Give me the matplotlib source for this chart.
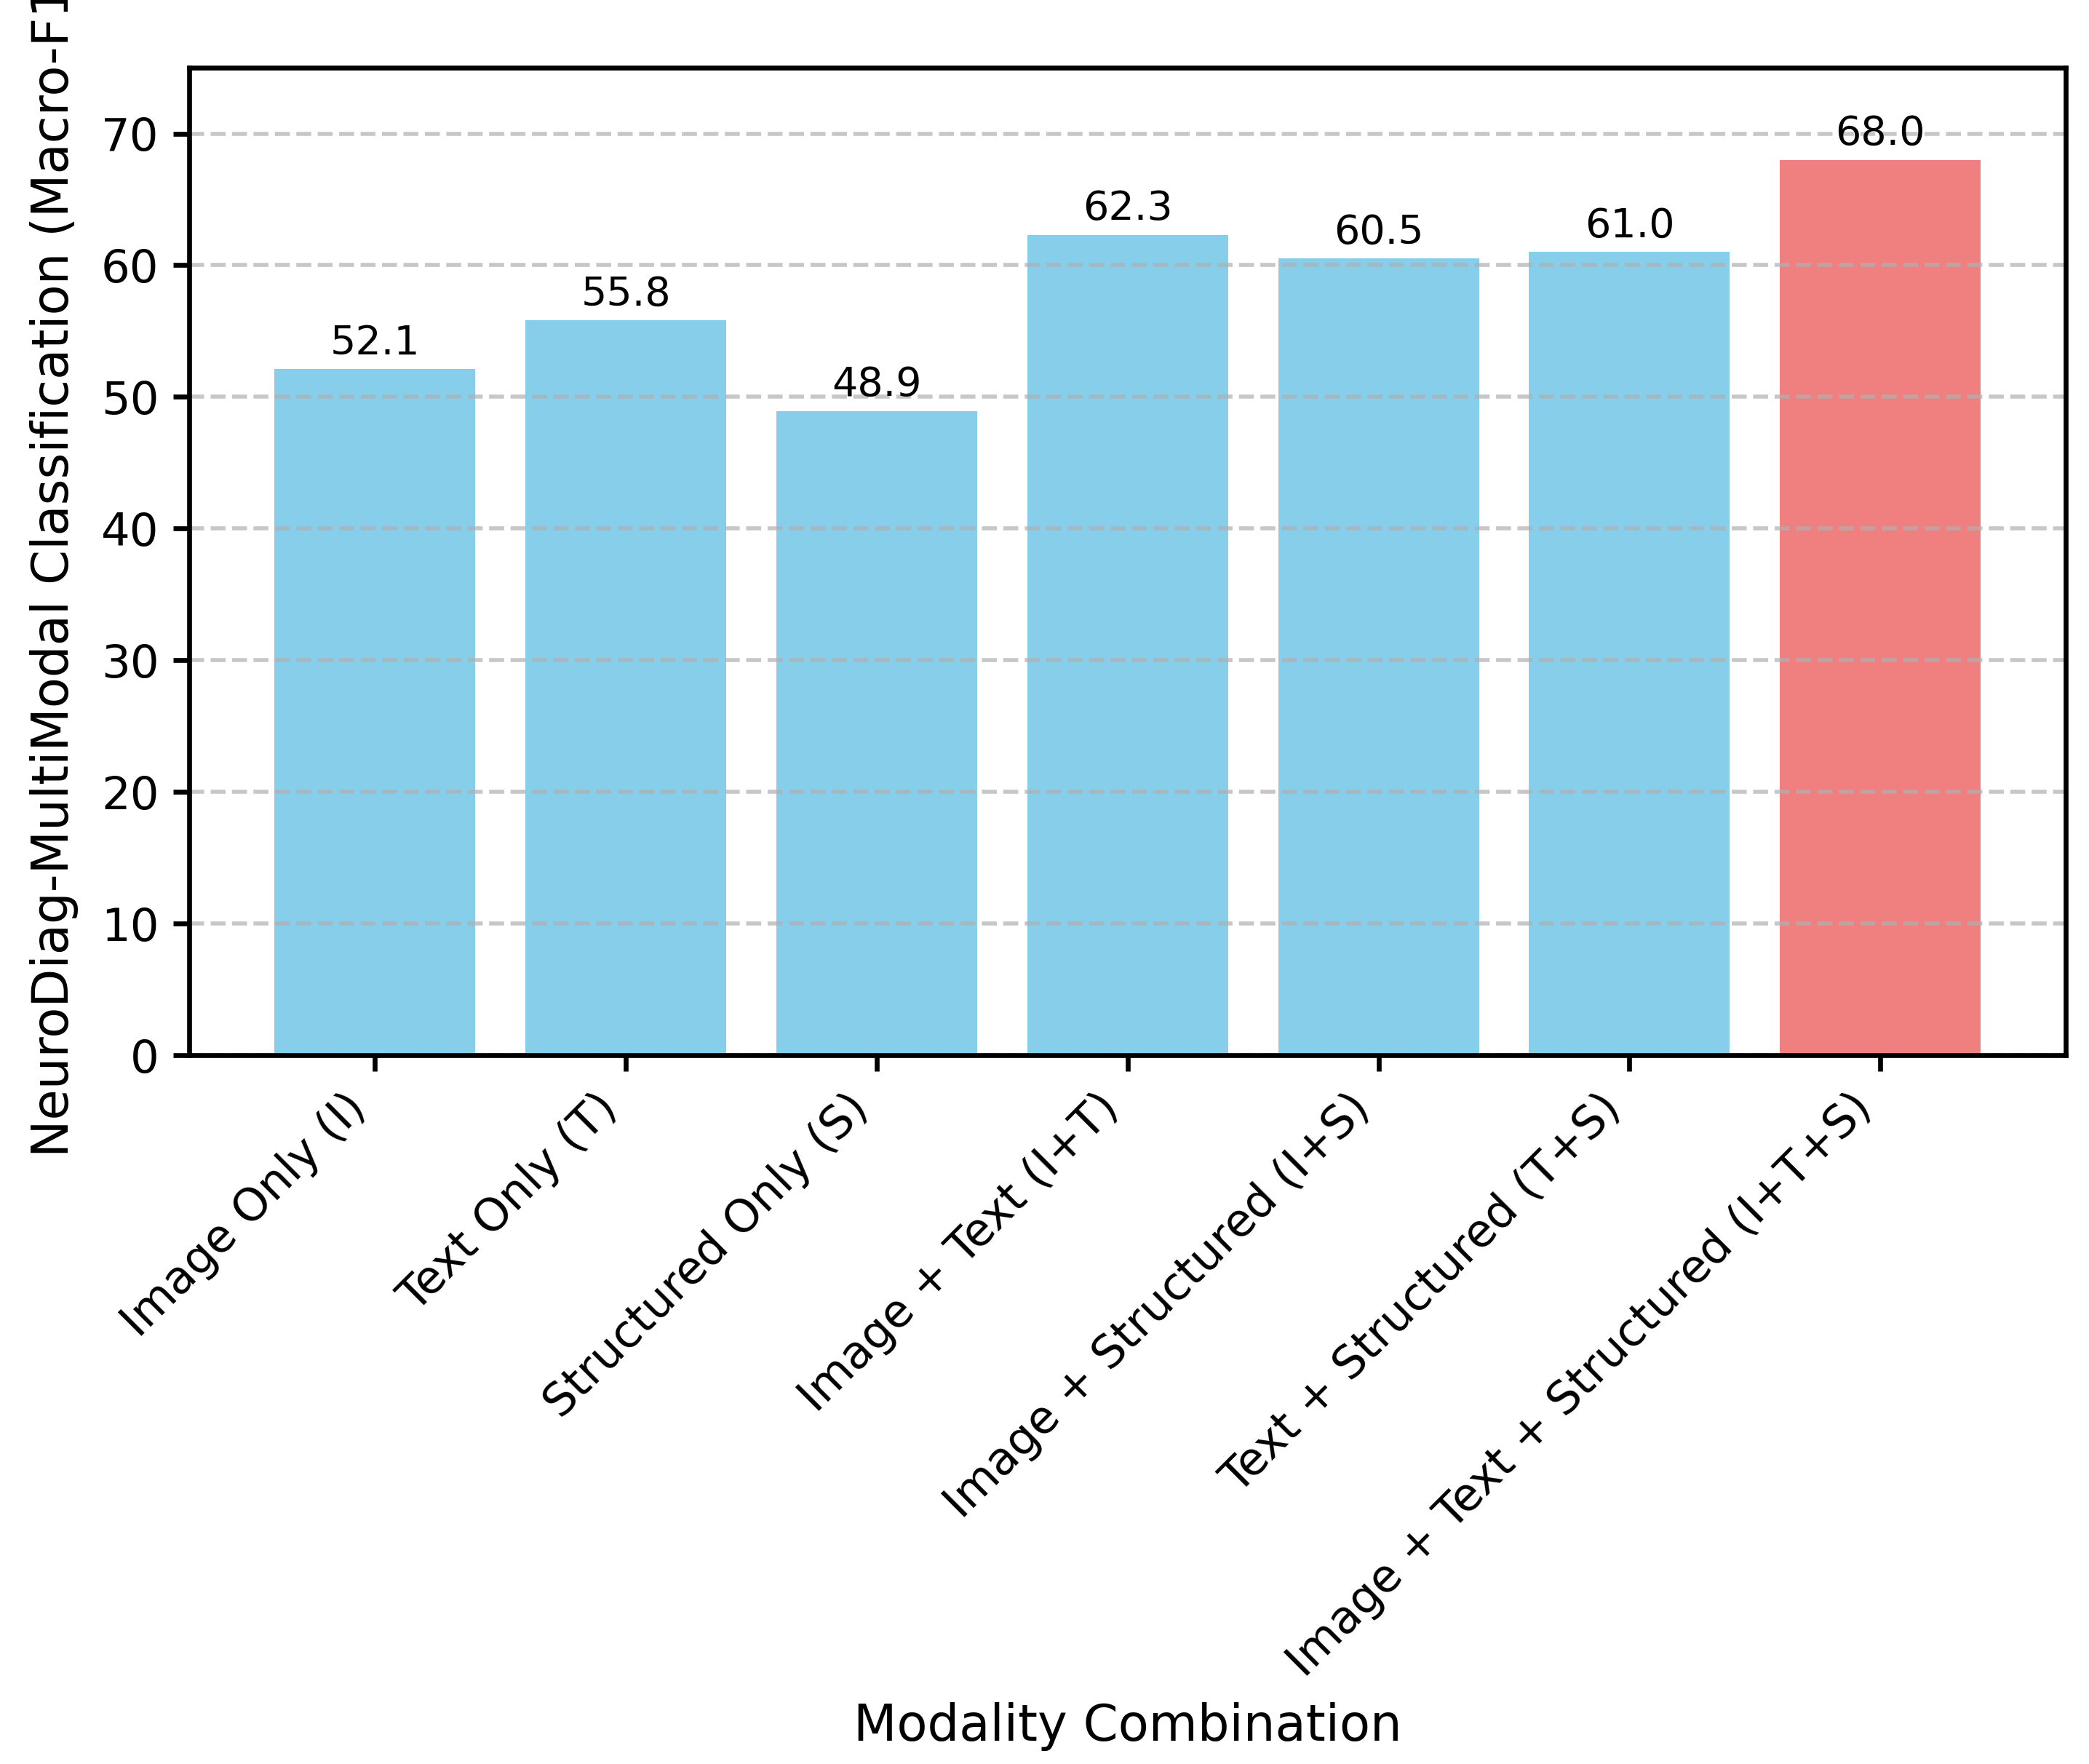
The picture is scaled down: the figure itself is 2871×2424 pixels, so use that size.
import matplotlib
matplotlib.use("Agg")
import matplotlib.pyplot as plt

# modality combinations and their macro-F1 scores
modalities = ["Image Only (I)", "Text Only (T)", "Structured Only (S)",
              "Image + Text (I+T)", "Image + Structured (I+S)",
              "Text + Structured (T+S)", "Image + Text + Structured (I+T+S)"]
scores = [52.1, 55.8, 48.9, 62.3, 60.5, 61.0, 68.0]
colors = ["skyblue"] * 6 + ["lightcoral"]

fig, ax = plt.subplots(figsize=(2871 / 400, 2424 / 400), dpi=400)
fig.subplots_adjust(left=0.0906, right=0.989, bottom=0.4018, top=0.9616)

bars = ax.bar(modalities, scores, color=colors, width=0.8)

#value labels on top of each bar
for bar, val in zip(bars, scores):
    ax.text(bar.get_x() + bar.get_width() / 2, val + 0.5, f"{val:.1f}",
            ha="center", va="bottom", fontsize=10)

ax.set_ylim(0, 75)
ax.set_xlabel("Modality Combination", fontsize=12.4)
ax.set_ylabel("NeuroDiag-MultiModal Classification (Macro-F1)", fontsize=12.4,
              labelpad=5.5)
ax.tick_params(axis="both", labelsize=11.25, width=1.2, length=4)
plt.setp(ax.get_xticklabels(), rotation=45, ha="right")
ax.grid(axis="y", linestyle="--", alpha=0.7, linewidth=1.0)
for spine in ax.spines.values():
    spine.set_linewidth(1.2)

plt.savefig("out.png", dpi=400)
